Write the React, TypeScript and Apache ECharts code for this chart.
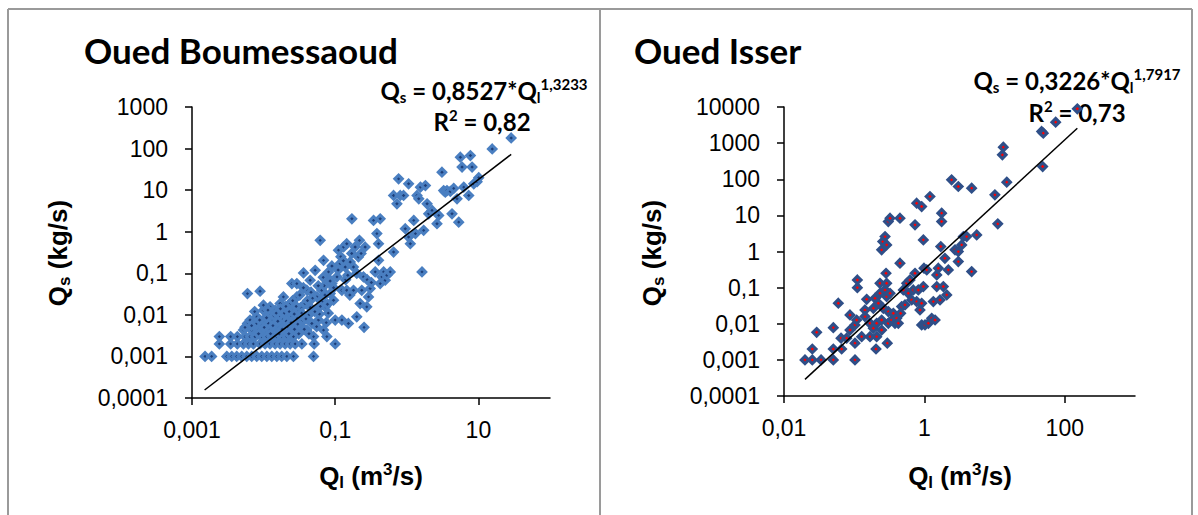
import React, { useEffect, useRef } from "react";
import * as echarts from "echarts";

// ---- Data ----
const boumessaoudPoints: [number, number][] = [
  [0.00152, 0.001], [0.00188, 0.001], [0.00241, 0.002], [0.00241, 0.003],
  [0.00306, 0.001], [0.00347, 0.003], [0.00347, 0.002], [0.00359, 0.001], [0.00421, 0.001], [0.0043, 0.003], [0.0043, 0.002],
  [0.00495, 0.001], [0.00523, 0.002], [0.00552, 0.003], [0.00523, 0.0043], [0.00595, 0.0062], [0.00595, 0.0325], [0.00893, 0.037],
  [0.00582, 0.001], [0.00614, 0.002], [0.00647, 0.003], [0.00647, 0.0075], [0.00683, 0.0043],
  [0.00683, 0.001], [0.0072, 0.002], [0.0076, 0.003], [0.00802, 0.0062], [0.00802, 0.009], [0.00846, 0.0043],
  [0.00802, 0.001], [0.00893, 0.002], [0.00942, 0.003], [0.00994, 0.0129], [0.00994, 0.0075], [0.00994, 0.0171], [0.0105, 0.0043],
  [0.00942, 0.001], [0.0105, 0.002], [0.0111, 0.003], [0.0117, 0.0062], [0.0117, 0.0098], [0.0123, 0.0156], [0.0123, 0.0043],
  [0.0111, 0.001], [0.0123, 0.002], [0.013, 0.003], [0.0137, 0.0075], [0.0145, 0.0129], [0.0145, 0.0052],
  [0.013, 0.001], [0.0145, 0.002], [0.0153, 0.003], [0.0161, 0.0043], [0.0161, 0.009], [0.017, 0.0187], [0.0179, 0.0062],
  [0.0153, 0.001], [0.017, 0.002], [0.0179, 0.003], [0.0189, 0.027], [0.0189, 0.0129], [0.02, 0.0043],
  [0.0179, 0.001], [0.02, 0.002], [0.0211, 0.003], [0.0222, 0.0062], [0.0222, 0.009], [0.0235, 0.0187], [0.0235, 0.0043],
  [0.0211, 0.001], [0.0235, 0.002], [0.0248, 0.0565], [0.0261, 0.003], [0.0261, 0.0129], [0.0276, 0.0062], [0.0291, 0.0565], [0.0291, 0.027],
  [0.0261, 0.001], [0.0276, 0.002], [0.0307, 0.0129], [0.0324, 0.0062], [0.0342, 0.002], [0.0361, 0.102], [0.038, 0.0187], [0.0402, 0.0391], [0.0402, 0.0043],
  [0.0424, 0.0098], [0.0447, 0.068], [0.0472, 0.0062], [0.0498, 0.001], [0.0498, 0.003], [0.0509, 0.002], [0.0525, 0.118], [0.0554, 0.027], [0.0585, 0.0075],
  [0.0617, 0.62], [0.0651, 0.039], [0.0687, 0.205], [0.0687, 0.0043], [0.0725, 0.0156], [0.0765, 0.082], [0.0765, 0.003], [0.0807, 0.108], [0.0852, 0.0325],
  [0.0899, 0.0565], [0.0948, 0.0225], [0.1, 0.0075], [0.1, 0.002], [0.106, 0.082], [0.111, 0.36], [0.117, 0.171], [0.124, 0.039], [0.124, 0.0075],
  [0.131, 0.43], [0.138, 0.142], [0.145, 0.515], [0.145, 0.039], [0.153, 0.0062], [0.162, 0.187], [0.171, 2.05], [0.18, 0.039], [0.18, 0.142],
  [0.19, 0.43], [0.2, 0.009], [0.211, 0.247], [0.218, 0.62], [0.223, 0.0187], [0.235, 0.039], [0.248, 0.082], [0.253, 0.005], [0.262, 0.43],
  [0.276, 0.0156], [0.292, 0.027], [0.308, 0.043],
  [0.343, 1.87], [0.362, 0.108], [0.382, 0.9], [0.403, 0.515], [0.403, 0.205], [0.425, 2.05], [0.425, 0.0565], [0.449, 0.082], [0.474, 0.108],
  [0.5, 0.068], [0.527, 0.09], [0.587, 0.108], [0.654, 0.325],
  [0.654, 7.45], [0.728, 4.7], [0.768, 18.7], [0.811, 7.45], [0.902, 7.45], [0.952, 1.18], [1.06, 14.2], [1.06, 0.745], [1.12, 0.515],
  [1.25, 1.87], [1.32, 0.9], [1.39, 7.45], [1.47, 6.2], [1.55, 11.8], [1.63, 0.108], [1.72, 1.08], [1.82, 12.9], [1.92, 4.7], [2.02, 2.7],
  [2.25, 3.25], [2.64, 1.56], [2.79, 2.47], [3.1, 27], [3.27, 9.8], [3.45, 8.95], [3.64, 9.8], [4.06, 9.3], [4.28, 2.7], [4.52, 11],
  [5.03, 6.2], [5.31, 1.7], [5.6, 62], [5.91, 36], [6.24, 11.8], [7.33, 7.45], [7.73, 68], [8.16, 36], [8.61, 14.2], [9.59, 16], [10.1, 20],
  [15.6, 98], [28.7, 180],
  [0.0055, 0.005], [0.0068, 0.0055], [0.0085, 0.0035], [0.0095, 0.0055], [0.011, 0.0085], [0.0125, 0.0035], [0.014, 0.0095],
  [0.0155, 0.0055], [0.0165, 0.0035], [0.0185, 0.0075], [0.0195, 0.011], [0.0215, 0.0052], [0.0225, 0.0035], [0.0245, 0.0095],
  [0.027, 0.0045], [0.029, 0.0085], [0.031, 0.0035], [0.033, 0.015], [0.035, 0.0075], [0.037, 0.0045], [0.045, 0.015],
  [0.048, 0.025], [0.055, 0.0052], [0.06, 0.0105], [0.065, 0.021], [0.07, 0.05], [0.075, 0.0065], [0.08, 0.011], [0.09, 0.15],
  [0.095, 0.045], [0.12, 0.25], [0.14, 0.07], [0.16, 0.03], [0.2, 0.1], [0.23, 0.3], [0.28, 0.07], [0.32, 0.06],
  [0.0075, 0.012], [0.0088, 0.0075], [0.0102, 0.005], [0.0115, 0.013], [0.0135, 0.0055], [0.015, 0.011], [0.0158, 0.007],
  [0.0172, 0.014], [0.0182, 0.0045], [0.0205, 0.016], [0.0208, 0.007], [0.0228, 0.012], [0.0242, 0.0065], [0.0255, 0.022],
  [0.0268, 0.0105], [0.0285, 0.016], [0.03, 0.006], [0.032, 0.03], [0.034, 0.011], [0.036, 0.045], [0.039, 0.008],
  [0.041, 0.022], [0.043, 0.0035], [0.046, 0.035], [0.052, 0.012], [0.058, 0.05], [0.062, 0.016], [0.068, 0.08],
  [0.072, 0.03], [0.078, 0.018], [0.085, 0.065], [0.11, 0.12], [0.13, 0.2], [0.15, 0.09], [0.17, 0.3],
];

const isserPoints: [number, number][] = [
  [0.0199, 0.001], [0.0253, 0.001], [0.0337, 0.001], [0.0504, 0.001], [0.1026, 0.001],
  [0.0253, 0.002], [0.0504, 0.002], [0.0663, 0.002], [0.2045, 0.002],
  [0.0292, 0.0058], [0.0504, 0.0078], [0.0649, 0.004], [0.0781, 0.004], [0.0871, 0.0067], [0.1026, 0.0029], [0.1026, 0.0093], [0.1084, 0.0127],
  [0.0594, 0.037], [0.0871, 0.0175], [0.1109, 0.1], [0.1109, 0.163], [0.1506, 0.0476], [0.1425, 0.0241], [0.1425, 0.0158], [0.1277, 0.0044],
  [0.1679, 0.0103], [0.1679, 0.0044], [0.1874, 0.0075], [0.1874, 0.0268], [0.1977, 0.0508], [0.209, 0.0044], [0.209, 0.0103], [0.221, 0.0369],
  [0.233, 0.0698], [0.233, 0.132], [0.246, 0.0067], [0.246, 0.0127], [0.26, 0.0268], [0.275, 0.0863], [0.284, 0.25], [0.29, 0.132],
  [0.29, 0.0565], [0.296, 0.0029], [0.306, 0.0103], [0.306, 0.0217], [0.324, 0.0698],
  [0.246, 1.11], [0.255, 1.88], [0.275, 2.59], [0.29, 1.52], [0.306, 6.75], [0.324, 8.34], [0.449, 8.34],
  [0.342, 0.0127], [0.361, 0.0195], [0.381, 0.0103], [0.403, 0.0142], [0.425, 0.0103], [0.449, 0.473], [0.459, 0.0195], [0.474, 0.0298],
  [0.501, 0.0863], [0.529, 0.0332], [0.559, 0.132], [0.59, 0.0698], [0.623, 0.163], [0.659, 0.0456], [0.695, 0.0863], [0.735, 0.25],
  [0.776, 0.041], [0.819, 0.0863], [0.865, 0.0241], [0.914, 0.0369], [0.914, 0.0093], [0.966, 0.107], [0.966, 2.09], [0.987, 0.344],
  [1.02, 0.0093], [1.08, 0.309], [1.14, 0.0103], [1.2, 33.3], [1.27, 0.0142], [1.34, 0.041], [1.42, 0.0127], [1.5, 0.107], [1.5, 0.225],
  [1.58, 0.344], [1.67, 0.0456], [1.71, 1.37], [1.76, 6.75], [1.76, 11.5], [1.86, 0.107], [1.96, 0.65], [2.08, 0.0628], [2.19, 0.309],
  [0.735, 5.46], [0.776, 21.7], [0.914, 17.6],
  [2.44, 96.2], [2.73, 1.11], [3.04, 63], [3.04, 0.995], [3.04, 0.526], [3.4, 1.52], [3.59, 2.59], [4.0, 2.59], [4.71, 0.278], [4.71, 56.6], [5.56, 2.88],
  [10.1, 37], [11.1, 5.82], [12.9, 474], [13.3, 773], [14.9, 83], [46.8, 2100], [48.4, 225], [49.4, 1890], [74.1, 3810], [150.8, 8910],
];

const boumessaoudTrend: [number, number][] = [[0.0015, 0.000156], [28.7, 72.4]];
const isserTrend: [number, number][] = [[0.0199, 0.000289], [150.8, 2580]];

const leftXTicks = [0.001, 0.1, 10];
const leftXLabels = ["0,001", "0,1", "10"];
const leftYTicks = [0.0001, 0.001, 0.01, 0.1, 1, 10, 100, 1000];
const leftYLabels = ["0,0001", "0,001", "0,01", "0,1", "1", "10", "100", "1000"];
const rightXTicks = [0.01, 1, 100];
const rightXLabels = ["0,01", "1", "100"];
const rightYTicks = [0.0001, 0.001, 0.01, 0.1, 1, 10, 100, 1000, 10000];
const rightYLabels = ["0,0001", "0,001", "0,01", "0,1", "1", "10", "100", "1000", "10000"];

const titles = ["Oued Boumessaoud", "Oued Isser"];
const coefficients = ["0,8527", "0,3226"];
const exponents = ["1,3233", "1,7917"];
const r2Values = ["0,82", "0,73"];

const AXIS_FONT = "'Liberation Sans', Arial, sans-serif";
const CAL_FONT = "Lato, 'Open Sans', sans-serif";

function makeFormatter(ticks: number[], labels: string[]) {
  return (v: number) => {
    const i = ticks.findIndex((t) => Math.abs(Math.log10(t) - Math.log10(v)) < 0.01);
    return i >= 0 ? labels[i] : "";
  };
}

function makeAxis(gridIndex: number, min: number, max: number, ticks: number[], labels: string[], margin: number) {
  return {
    type: "log",
    logBase: 10,
    gridIndex,
    min,
    max,
    axisLine: { show: true, onZero: false, lineStyle: { color: "#000", width: 1.5 } },
    axisTick: { show: true, inside: false, length: 7, customValues: ticks, lineStyle: { color: "#000", width: 1.5 } },
    axisLabel: {
      customValues: ticks,
      formatter: makeFormatter(ticks, labels),
      fontFamily: AXIS_FONT,
      fontSize: 23,
      color: "#000",
      margin,
    },
    splitLine: { show: false },
    minorTick: { show: false },
    minorSplitLine: { show: false },
  };
}

const axisTitleRich = {
  b: { fontFamily: AXIS_FONT, fontWeight: "bold", fontSize: 26, lineHeight: 30, fill: "#000", color: "#000" },
  sub: { fontFamily: AXIS_FONT, fontWeight: "bold", fontSize: 17, lineHeight: 12, verticalAlign: "bottom", fill: "#000", color: "#000" },
  sup: { fontFamily: AXIS_FONT, fontWeight: "bold", fontSize: 17, lineHeight: 26, verticalAlign: "top", fill: "#000", color: "#000" },
};

const eqRich = {
  b: { fontFamily: CAL_FONT, fontWeight: "bold", fontSize: 24, lineHeight: 28, fill: "#000", color: "#000" },
  sub: { fontFamily: CAL_FONT, fontWeight: "bold", fontSize: 15, lineHeight: 12, verticalAlign: "bottom", fill: "#000", color: "#000" },
  sup: { fontFamily: CAL_FONT, fontWeight: "bold", fontSize: 15, lineHeight: 18, verticalAlign: "top", fill: "#000", color: "#000" },
};

function textEl(x: number, y: number, text: string, rich: any, align: string, rotation = 0) {
  return {
    type: "text",
    x,
    y,
    rotation,
    style: { text, rich, align, verticalAlign: "middle", textAlign: align, textVerticalAlign: "middle" },
  };
}

export default function App() {
  const ref = useRef<HTMLDivElement>(null);
  useEffect(() => {
    if (!ref.current) return;
    const chart = echarts.init(ref.current, undefined, { renderer: "svg" });
    const border = { stroke: "#9a9a9a", lineWidth: 2 };
    chart.setOption({
      animation: false,
      backgroundColor: "#fff",
      grid: [
        { left: 192, top: 107, width: 358, height: 291 },
        { left: 784, top: 107, width: 351, height: 289 },
      ],
      xAxis: [
        makeAxis(0, 0.001, 100, leftXTicks, leftXLabels, 20),
        makeAxis(1, 0.01, 1000, rightXTicks, rightXLabels, 20),
      ],
      yAxis: [
        makeAxis(0, 0.0001, 1000, leftYTicks, leftYLabels, 24),
        makeAxis(1, 0.0001, 10000, rightYTicks, rightYLabels, 24),
      ],
      series: [
        {
          type: "scatter",
          xAxisIndex: 0,
          yAxisIndex: 0,
          data: boumessaoudPoints,
          symbol: "diamond",
          symbolSize: 7.5,
          itemStyle: { color: "#1d3e78", borderColor: "#4a7fc1", borderWidth: 3, opacity: 1 },
        },
        {
          type: "scatter",
          xAxisIndex: 1,
          yAxisIndex: 1,
          data: isserPoints,
          symbol: "diamond",
          symbolSize: 7.5,
          itemStyle: { color: "#ff0000", borderColor: "#2f4f88", borderWidth: 3, opacity: 1 },
        },
        {
          type: "line",
          xAxisIndex: 0,
          yAxisIndex: 0,
          data: boumessaoudTrend,
          showSymbol: false,
          lineStyle: { color: "#000", width: 1.5 },
          z: 5,
        },
        {
          type: "line",
          xAxisIndex: 1,
          yAxisIndex: 1,
          data: isserTrend,
          showSymbol: false,
          lineStyle: { color: "#000", width: 1.5 },
          z: 5,
        },
      ],
      graphic: [
        { type: "line", shape: { x1: 8, y1: 9, x2: 1192, y2: 9 }, style: border },
        { type: "line", shape: { x1: 8, y1: 9, x2: 8, y2: 515 }, style: border },
        { type: "line", shape: { x1: 600, y1: 9, x2: 600, y2: 515 }, style: border },
        { type: "line", shape: { x1: 1192, y1: 9, x2: 1192, y2: 515 }, style: border },
        {
          type: "text", x: 84, y: 50,
          style: { text: titles[0], fontFamily: CAL_FONT, fontWeight: "bold", fontSize: 35, fill: "#000", align: "left", verticalAlign: "middle" },
        },
        {
          type: "text", x: 634, y: 50,
          style: { text: titles[1], fontFamily: CAL_FONT, fontWeight: "bold", fontSize: 35, fill: "#000", align: "left", verticalAlign: "middle" },
        },
        textEl(484, 90, `{b|Q}{sub|s}{b| = ${coefficients[0]}*Q}{sub|l}{sup|${exponents[0]}}`, eqRich, "center"),
        textEl(482, 121, `{b|R}{sup|2}{b| = ${r2Values[0]}}`, eqRich, "center"),
        textEl(1077, 80, `{b|Q}{sub|s}{b| = ${coefficients[1]}*Q}{sub|l}{sup|${exponents[1]}}`, eqRich, "center"),
        textEl(1077, 112, `{b|R}{sup|2}{b| = ${r2Values[1]}}`, eqRich, "center"),
        textEl(371, 476, "{b|Q}{sub|l}{b| (m}{sup|3}{b|/s)}", axisTitleRich, "center"),
        textEl(960, 476, "{b|Q}{sub|l}{b| (m}{sup|3}{b|/s)}", axisTitleRich, "center"),
        textEl(58, 253, "{b|Q}{sub|s}{b| (kg/s)}", axisTitleRich, "center", Math.PI / 2),
        textEl(652, 253, "{b|Q}{sub|s}{b| (kg/s)}", axisTitleRich, "center", Math.PI / 2),
      ],
    });
    return () => chart.dispose();
  }, []);
  return (
    <div
      ref={ref}
      style={{ position: "fixed", left: 0, top: 0, width: 1198, height: 515, background: "#fff" }}
    />
  );
}
